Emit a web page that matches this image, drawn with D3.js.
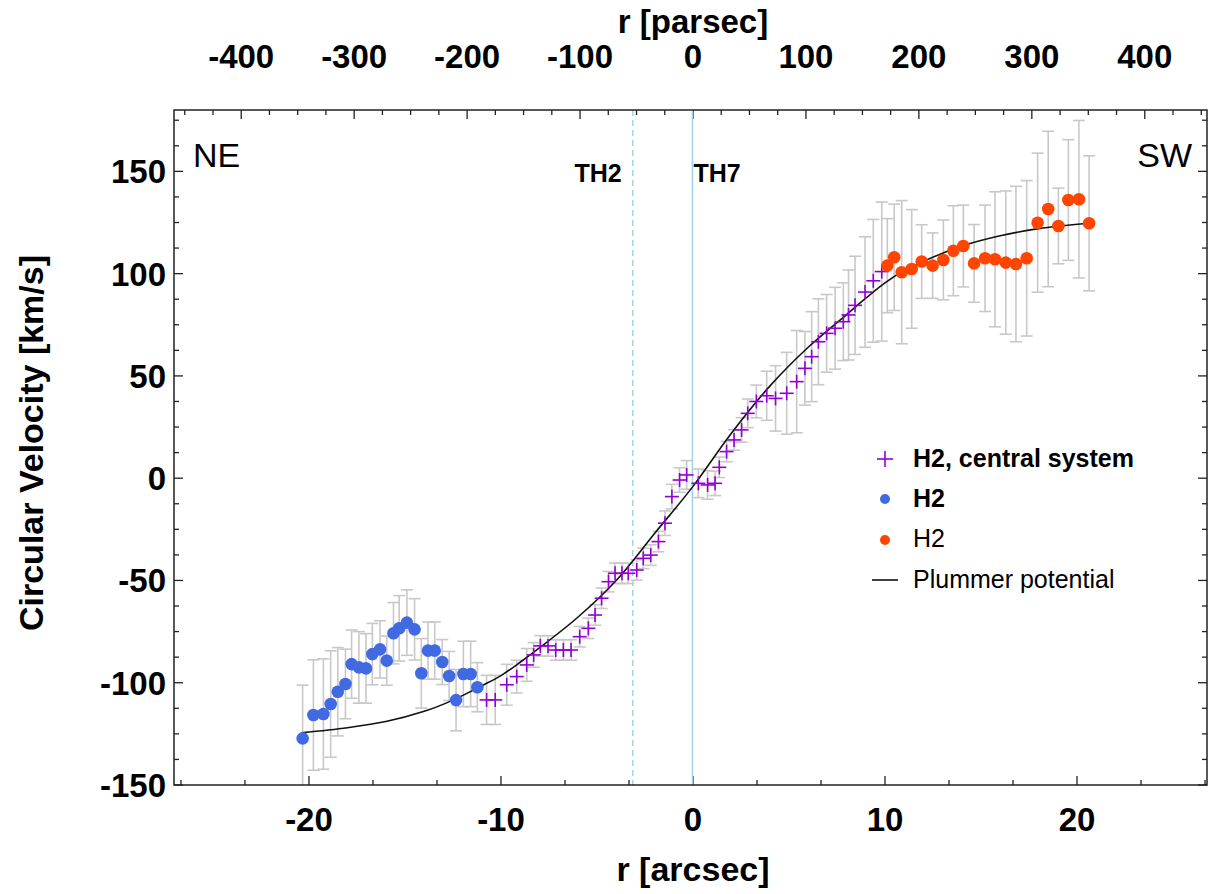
<!DOCTYPE html>
<html>
 <head>
  <meta charset="utf-8" />
  <title>Circular Velocity</title>
  <script src="https://cdn.jsdelivr.net/npm/d3@7"></script>
  <style>
    body { margin: 0; background: #fff; }
    text { font-family: "Liberation Sans", Arial, sans-serif; fill: #000; }
  </style>
 </head>
 <body>
  <script>
    // H2, central system (crosses)
    var centralR   = [-10.75, -10.3, -9.7, -9.18, -8.66, -8.3, -7.95, -7.55, -7.15, -6.75, -6.35, -5.9, -5.45, -5.1, -4.76, -4.4, -4.06, -3.7, -3.37, -2.93, -2.59, -2.2, -1.8, -1.46, -1.1, -0.7, -0.33, 0.28, 0.76, 1.15, 1.37, 1.75, 2.14, 2.53, 2.85, 3.3, 3.84, 4.3, 4.88, 5.4, 5.83, 6.18, 6.53, 6.96, 7.4, 7.83, 8.1, 8.44, 8.96, 9.39, 9.83];
    var centralV   = [-108.4, -108.4, -101, -97, -91.3, -86.4, -82, -82, -84, -84, -84, -77.5, -73.4, -66.9, -58.7, -50.6, -46.5, -46.5, -46.5, -44.9, -39.2, -37.6, -31, -22, -9, -0.9, 1.6, -2.5, -3.3, -2.5, 5.3, 13, 18.7, 23.6, 31.7, 37.5, 40.3, 39, 41.5, 47.2, 53.7, 59.4, 66.7, 70.8, 73.3, 76.5, 79.8, 84.5, 91, 96.5, 101];
    var centralErr = [12, 12, 10, 8, 8, 6, 5, 5, 5, 5, 5, 5, 5, 5, 5, 5, 5, 5, 5, 5, 5, 5, 5, 6, 6, 6, 7, 7, 7, 6, 5, 5, 5, 6, 7, 8, 12, 16, 20, 25, 18, 22, 21, 19, 20, 19, 22, 24, 27, 30, 34];

    // H2, NE side (blue dots)
    var neR   = [-20.33, -19.77, -19.25, -18.87, -18.5, -18.1, -17.78, -17.4, -17.03, -16.7, -16.3, -15.95, -15.6, -15.3, -14.9, -14.5, -14.15, -13.8, -13.45, -13.06, -12.7, -12.34, -11.96, -11.58, -11.23];
    var neV   = [-127.2, -115.8, -115.3, -110.4, -104.4, -100.6, -90.9, -92.5, -93, -86, -83.7, -89.2, -75.8, -73.4, -70.6, -73.9, -95.4, -84.3, -84.3, -89.9, -96.7, -108.5, -95.7, -95.7, -102.2];
    var neErr = [26, 27, 27, 26, 21.6, 17, 16.7, 17.5, 17, 15, 14, 12, 15, 16, 16, 15, 17, 14, 14, 11, 12, 15, 16, 16, 12];

    // H2, SW side (orange dots)
    var swR   = [10.12, 10.48, 10.87, 11.39, 11.91, 12.48, 13.04, 13.56, 14.08, 14.64, 15.21, 15.73, 16.29, 16.82, 17.38, 17.95, 18.5, 19.03, 19.55, 20.1, 20.63];
    var swV   = [103.9, 108, 100.7, 102.3, 105.9, 103.9, 106.7, 111.2, 113.5, 105, 107.5, 107, 105.4, 104.7, 107.5, 124.9, 131.6, 123.3, 136, 136.4, 124.6];
    var swErr = [23, 26, 35, 29, 18, 16, 19.5, 22, 20, 19, 26, 33, 35, 38, 38, 34, 38, 18.5, 29.5, 38.5, 33];

    // Plummer potential model
    var modelR = [-20.4, -18, -16, -14, -12.5, -11, -10, -9, -8, -6, -4, -2, 0, 2, 4, 6, 8, 9, 10, 11, 12, 13, 14, 16, 18, 20.6];
    var modelV = [-124.5, -122, -119, -114, -108.5, -101.5, -96.5, -90, -83, -68, -50, -27, -4, 22, 45, 64, 80, 88, 95.5, 101.5, 106, 110, 113.5, 118.5, 122, 124.6];

    var arcTicks = [-20, -10, 0, 10, 20];
    var pcTicks  = [-400, -300, -200, -100, 0, 100, 200, 300, 400];
    var velTicks = [-150, -100, -50, 0, 50, 100, 150];
    var pcPerArcsec = 17.0;
    var markers = [{name: "TH2", r: -3.14, dash: "6,4"}, {name: "TH7", r: -0.03, dash: null}];

    var W = 1214, H = 894,
        L = 174, R = 1207, T = 110, B = 785;

    var x = d3.scaleLinear().domain([-27.03, 26.77]).range([L, R]),
        xPc = d3.scaleLinear().domain([-27.03 * pcPerArcsec, 26.77 * pcPerArcsec]).range([L, R]),
        y = d3.scaleLinear().domain([-150, 180]).range([B, T]);

    var svg = d3.select("body").append("svg")
        .attr("width", W).attr("height", H);

    svg.append("defs").append("clipPath").attr("id", "clip")
      .append("rect").attr("x", L).attr("y", T).attr("width", R - L).attr("height", B - T);

    // ticks, drawn inward like the original
    var tk = svg.append("g").attr("stroke", "#222").attr("stroke-width", 1.3);
    function tickRange(lo, hi, step) {
      var out = [];
      for (var v = Math.ceil(lo / step) * step; v <= hi + 1e-9; v += step) out.push(v);
      return out;
    }
    tickRange(-27, 26.77, 10 / 3).forEach(function(v) {
      var big = Math.abs(v / 10 - Math.round(v / 10)) < 1e-6;
      tk.append("line").attr("x1", x(v)).attr("x2", x(v)).attr("y1", B).attr("y2", B - (big ? 9 : 5));
    });
    tickRange(-459, 455, 25).forEach(function(v) {
      var big = v % 100 === 0;
      tk.append("line").attr("x1", xPc(v)).attr("x2", xPc(v)).attr("y1", T).attr("y2", T + (big ? 9 : 5));
    });
    tickRange(-150, 180, 12.5).forEach(function(v) {
      var big = v % 50 === 0;
      tk.append("line").attr("x1", L).attr("x2", L + (big ? 9 : 5)).attr("y1", y(v)).attr("y2", y(v));
      tk.append("line").attr("x1", R).attr("x2", R - (big ? 9 : 5)).attr("y1", y(v)).attr("y2", y(v));
    });

    // tick labels
    svg.append("g").selectAll("text").data(arcTicks).enter().append("text")
      .attr("x", function(d) { return x(d); }).attr("y", 831)
      .attr("text-anchor", "middle").attr("font-size", 33).attr("font-weight", "bold")
      .text(function(d) { return d; });
    svg.append("g").selectAll("text").data(pcTicks).enter().append("text")
      .attr("x", function(d) { return xPc(d); }).attr("y", 68)
      .attr("text-anchor", "middle").attr("font-size", 33).attr("font-weight", "bold")
      .text(function(d) { return d; });
    svg.append("g").selectAll("text").data(velTicks).enter().append("text")
      .attr("x", 166).attr("y", function(d) { return y(d); }).attr("dy", "0.36em")
      .attr("text-anchor", "end").attr("font-size", 33).attr("font-weight", "bold")
      .text(function(d) { return d; });

    // axis titles
    svg.append("text").attr("x", 693).attr("y", 881).attr("text-anchor", "middle")
      .attr("font-size", 34).attr("font-weight", "bold").text("r [arcsec]");
    svg.append("text").attr("x", 693).attr("y", 33).attr("text-anchor", "middle")
      .attr("font-size", 33).attr("font-weight", "bold").text("r [parsec]");
    svg.append("text").attr("transform", "translate(43,443) rotate(-90)").attr("text-anchor", "middle")
      .attr("font-size", 34).attr("font-weight", "bold").text("Circular Velocity [km/s]");

    var plot = svg.append("g").attr("clip-path", "url(#clip)");

    // TH2 / TH7 reference lines
    markers.forEach(function(m) {
      plot.append("line").attr("x1", x(m.r)).attr("x2", x(m.r)).attr("y1", T).attr("y2", B)
        .attr("stroke", "#9fd4e8").attr("stroke-width", 1.5)
        .attr("stroke-dasharray", m.dash);
    });
    svg.append("text").attr("x", x(markers[0].r) - 11).attr("y", 182).attr("text-anchor", "end")
      .attr("font-size", 25).attr("font-weight", "bold").text("TH2");
    svg.append("text").attr("x", x(markers[1].r) + 1).attr("y", 182)
      .attr("font-size", 25).attr("font-weight", "bold").text("TH7");

    svg.append("text").attr("x", 193).attr("y", 167).attr("font-size", 34).text("NE");
    svg.append("text").attr("x", 1192).attr("y", 167).attr("text-anchor", "end").attr("font-size", 34).text("SW");

    // error bars
    function bars(rs, vs, es) {
      var g = plot.append("g").attr("stroke", "#c8c8c8").attr("stroke-width", 1.6).attr("fill", "none");
      rs.forEach(function(r, i) {
        var px = x(r), y0 = y(vs[i] - es[i]), y1 = y(vs[i] + es[i]);
        g.append("line").attr("x1", px).attr("x2", px).attr("y1", y0).attr("y2", y1);
        g.append("line").attr("x1", px - 6).attr("x2", px + 6).attr("y1", y0).attr("y2", y0);
        g.append("line").attr("x1", px - 6).attr("x2", px + 6).attr("y1", y1).attr("y2", y1);
      });
    }
    bars(centralR, centralV, centralErr);
    bars(neR, neV, neErr);
    bars(swR, swV, swErr);

    // model curve
    var line = d3.line().curve(d3.curveCatmullRom)
      .x(function(d) { return x(d[0]); }).y(function(d) { return y(d[1]); });
    plot.append("path").datum(d3.zip(modelR, modelV))
      .attr("d", line).attr("fill", "none").attr("stroke", "#111").attr("stroke-width", 1.6);

    // points
    var cross = plot.append("g").attr("stroke", "#9400d3").attr("stroke-width", 1.6);
    centralR.forEach(function(r, i) {
      var px = x(r), py = y(centralV[i]);
      cross.append("line").attr("x1", px - 7).attr("x2", px + 7).attr("y1", py).attr("y2", py);
      cross.append("line").attr("x1", px).attr("x2", px).attr("y1", py - 7).attr("y2", py + 7);
    });
    plot.append("g").selectAll("circle").data(d3.zip(neR, neV)).enter().append("circle")
      .attr("cx", function(d) { return x(d[0]); }).attr("cy", function(d) { return y(d[1]); })
      .attr("r", 6.3).attr("fill", "#4169e1");
    plot.append("g").selectAll("circle").data(d3.zip(swR, swV)).enter().append("circle")
      .attr("cx", function(d) { return x(d[0]); }).attr("cy", function(d) { return y(d[1]); })
      .attr("r", 6.3).attr("fill", "#ff4500");

    // frame
    svg.append("rect").attr("x", L).attr("y", T).attr("width", R - L).attr("height", B - T)
      .attr("fill", "none").attr("stroke", "#222").attr("stroke-width", 1.5);

    // legend
    var lg = svg.append("g").attr("font-size", 25);
    lg.append("line").attr("x1", 877).attr("x2", 893).attr("y1", 459).attr("y2", 459).attr("stroke", "#9400d3").attr("stroke-width", 1.6);
    lg.append("line").attr("x1", 885).attr("x2", 885).attr("y1", 451).attr("y2", 467).attr("stroke", "#9400d3").attr("stroke-width", 1.6);
    lg.append("text").attr("x", 913).attr("y", 467).attr("font-weight", "bold").text("H2, central system");
    lg.append("circle").attr("cx", 885).attr("cy", 499).attr("r", 5).attr("fill", "#4169e1");
    lg.append("text").attr("x", 913).attr("y", 507).attr("font-weight", "bold").text("H2");
    lg.append("circle").attr("cx", 885).attr("cy", 540).attr("r", 5).attr("fill", "#ff4500");
    lg.append("text").attr("x", 913).attr("y", 547).text("H2");
    lg.append("line").attr("x1", 872).attr("x2", 898).attr("y1", 580).attr("y2", 580).attr("stroke", "#111").attr("stroke-width", 1.6);
    lg.append("text").attr("x", 913).attr("y", 588).text("Plummer potential");
  </script>
 </body>
</html>
